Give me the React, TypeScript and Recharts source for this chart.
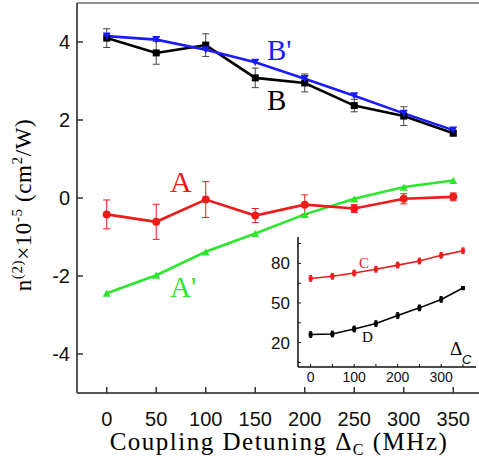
import { LineChart, Line, XAxis, YAxis, ErrorBar, ReferenceLine } from 'recharts'

const detuning = [0, 50, 100, 150, 200, 250, 300, 350]
const mainXTicks = [0, 50, 100, 150, 200, 250, 300, 350]
const mainYTicks = [-4, -2, 0, 2, 4]

const seriesB = [4.1, 3.72, 3.92, 3.08, 2.95, 2.37, 2.1, 1.66]
const errorB = [0.24, 0.29, 0.29, 0.25, 0.23, 0.16, 0.24, 0.05]
const seriesBPrime = [4.15, 4.06, 3.8, 3.48, 3.06, 2.62, 2.17, 1.74]
const seriesA = [-0.42, -0.61, -0.04, -0.45, -0.17, -0.27, -0.02, 0.03]
const errorA = [0.37, 0.45, 0.46, 0.18, 0.25, 0.1, 0.13, 0.1]
const seriesAPrime = [-2.44, -1.98, -1.38, -0.91, -0.42, -0.02, 0.28, 0.45]

// inset
const seriesC = [68.6, 70.2, 72.7, 75.5, 78.7, 81.8, 86.1, 89.6]
const errorC = [2, 2, 2, 2, 2, 2, 2, 2]
const seriesD = [26.1, 26.5, 30.3, 34.4, 40.5, 46.3, 52.7, 61.3]
const errorD = [2, 2, 2, 2, 2, 2, 2, 1]
const insetXTicks = [0, 50, 100, 150, 200, 250, 300, 350]
const insetYTicks = [5, 20, 35, 50, 65, 80, 95]
const insetYLabels = [20, 50, 80]

const mainData = detuning.map((x, i) => ({
  x,
  b: seriesB[i],
  bErr: errorB[i],
  bp: seriesBPrime[i],
  a: seriesA[i],
  aErr: errorA[i],
  ap: seriesAPrime[i],
}))

const insetData = detuning.map((x, i) => ({
  x,
  c: seriesC[i],
  cErr: errorC[i],
  d: seriesD[i],
  dErr: errorD[i],
}))

const BLUE = '#1a1aff'
const RED = '#ee1b1b'
const GREEN = '#2ee62e'
const AXIS = '#555'
const SANS = '"Liberation Sans", Arial, sans-serif'
const SERIF = '"Liberation Serif", "Times New Roman", serif'

const square = (size: number, color: string) => (p: any) => {
  if (p.cx == null || p.cy == null) return <g key={p.key} />
  return <rect key={p.key} x={p.cx - size / 2} y={p.cy - size / 2} width={size} height={size} fill={color} />
}

const circle = (r: number, color: string) => (p: any) => {
  if (p.cx == null || p.cy == null) return <g key={p.key} />
  return <circle key={p.key} cx={p.cx} cy={p.cy} r={r} fill={color} />
}

const triangle = (size: number, color: string, down: boolean) => (p: any) => {
  if (p.cx == null || p.cy == null) return <g key={p.key} />
  const h = size * 0.9
  const s = down ? -1 : 1
  const pts = `${p.cx - size / 2},${p.cy + (s * h) / 2} ${p.cx + size / 2},${p.cy + (s * h) / 2} ${p.cx},${p.cy - (s * h) / 2}`
  return <polygon key={p.key} points={pts} fill={color} />
}

function MainChart() {
  return (
    <LineChart width={479} height={462} data={mainData} margin={{ top: 3, right: 0, bottom: 0, left: 0 }}>
      <XAxis
        dataKey="x"
        type="number"
        domain={[-30, 376]}
        ticks={mainXTicks}
        interval={0}
        height={69}
        tickSize={-6}
        tickMargin={25}
        axisLine={{ stroke: AXIS, strokeWidth: 2 }}
        tickLine={{ stroke: '#333', strokeWidth: 1.5 }}
        tick={{ fill: '#111', fontSize: 20, fontFamily: SANS }}
      />
      <YAxis
        type="number"
        domain={[-5, 5]}
        ticks={mainYTicks}
        interval={0}
        width={77}
        tickSize={-6}
        tickMargin={13}
        axisLine={{ stroke: AXIS, strokeWidth: 2 }}
        tickLine={{ stroke: '#333', strokeWidth: 1.5 }}
        tick={{ fill: '#111', fontSize: 20, fontFamily: SANS }}
      />
      <ReferenceLine y={5} stroke="#222" strokeWidth={1.2} />
      <Line dataKey="b" stroke="#000" strokeWidth={2.6} dot={square(7, '#000')} isAnimationActive={false}>
        <ErrorBar dataKey="bErr" width={3.5} stroke="#444" strokeWidth={1} />
      </Line>
      <Line dataKey="bp" stroke={BLUE} strokeWidth={2.6} dot={triangle(8, BLUE, true)} isAnimationActive={false} />
      <Line dataKey="ap" stroke={GREEN} strokeWidth={2.6} dot={triangle(8, GREEN, false)} isAnimationActive={false} />
      <Line dataKey="a" stroke={RED} strokeWidth={2.6} dot={circle(4, RED)} isAnimationActive={false}>
        <ErrorBar dataKey="aErr" width={3.5} stroke={RED} strokeWidth={1} />
      </Line>
    </LineChart>
  )
}

function InsetChart() {
  return (
    <LineChart width={229} height={161} data={insetData} margin={{ top: 9, right: 3, bottom: 0, left: 0 }}>
      <XAxis
        dataKey="x"
        type="number"
        domain={[-29, 380]}
        ticks={insetXTicks}
        interval={0}
        height={22}
        tickSize={-3}
        tickMargin={8}
        tickFormatter={(v: number) => (v % 100 === 0 ? String(v) : '')}
        axisLine={{ stroke: '#111', strokeWidth: 1.5 }}
        tickLine={{ stroke: '#111' }}
        tick={{ fill: '#111', fontSize: 14, fontFamily: SANS }}
      />
      <XAxis
        xAxisId="top"
        orientation="top"
        dataKey="x"
        type="number"
        domain={[-29, 380]}
        ticks={insetXTicks}
        interval={0}
        height={0}
        tickSize={-3}
        tick={false}
        axisLine={{ stroke: '#111', strokeWidth: 1.5 }}
        tickLine={{ stroke: '#111' }}
      />
      <YAxis
        type="number"
        domain={[1.5, 100]}
        ticks={insetYTicks}
        interval={0}
        width={48}
        tickSize={-3}
        tickMargin={11}
        tickFormatter={(v: number) => (insetYLabels.includes(v) ? String(v) : '')}
        axisLine={{ stroke: '#111', strokeWidth: 1.5 }}
        tickLine={{ stroke: '#111' }}
        tick={{ fill: '#111', fontSize: 17, fontFamily: SANS }}
      />
      <YAxis
        yAxisId="right"
        orientation="right"
        type="number"
        domain={[1.5, 100]}
        ticks={insetYTicks}
        interval={0}
        width={0}
        tickSize={-3}
        tick={false}
        axisLine={{ stroke: '#111', strokeWidth: 1.5 }}
        tickLine={{ stroke: '#111' }}
      />
      <Line dataKey="c" stroke={RED} strokeWidth={1.6} dot={square(4, RED)} isAnimationActive={false}>
        <ErrorBar dataKey="cErr" width={1.5} stroke={RED} strokeWidth={1.5} />
      </Line>
      <Line dataKey="d" stroke="#000" strokeWidth={1.6} dot={square(4, '#000')} isAnimationActive={false}>
        <ErrorBar dataKey="dErr" width={1.5} stroke="#000" strokeWidth={1.5} />
      </Line>
    </LineChart>
  )
}

export default function App() {
  return (
    <div style={{ position: 'absolute', left: 0, top: 0, width: 479, height: 462, background: '#fff', overflow: 'hidden' }}>
      <MainChart />
      <div style={{ position: 'absolute', left: 250, top: 228 }}>
        <InsetChart />
      </div>
      <svg width={479} height={462} style={{ position: 'absolute', left: 0, top: 0, pointerEvents: 'none' }}>
        <g fontFamily={SERIF}>
          <text x={267} y={60} fontSize={29} fill={BLUE}>B'</text>
          <text x={267} y={110} fontSize={29} fill="#000">B</text>
          <text x={170} y={192} fontSize={30} fill={RED}>A</text>
          <text x={170} y={297} fontSize={29} fill={GREEN}>A'</text>
          <text x={359} y={268} fontSize={15} fill={RED}>C</text>
          <text x={362} y={342} fontSize={15} fill="#000">D</text>
          <text x={450} y={355} fontSize={19} fill="#000">Δ</text>
          <text x={462} y={364} fontSize={13} fontStyle="italic" fontFamily={SANS} fill="#000">C</text>
          <text x={279} y={450} fontSize={25} textAnchor="middle" letterSpacing={1.5} fill="#000">
            Coupling Detuning Δ<tspan fontSize={16} dy={5}>C</tspan>
            <tspan dy={-5}> (MHz)</tspan>
          </text>
          <text
            x={31}
            y={205}
            fontSize={23}
            textAnchor="middle"
            letterSpacing={0.6}
            fill="#000"
            transform="rotate(-90, 31, 205)"
          >
            n<tspan fontSize={15} dy={-9}>(2)</tspan>
            <tspan dy={9}>×10</tspan>
            <tspan fontSize={15} dy={-9}>-5</tspan>
            <tspan dy={9}> (cm</tspan>
            <tspan fontSize={15} dy={-9}>2</tspan>
            <tspan dy={9}>/W)</tspan>
          </text>
        </g>
      </svg>
    </div>
  )
}
